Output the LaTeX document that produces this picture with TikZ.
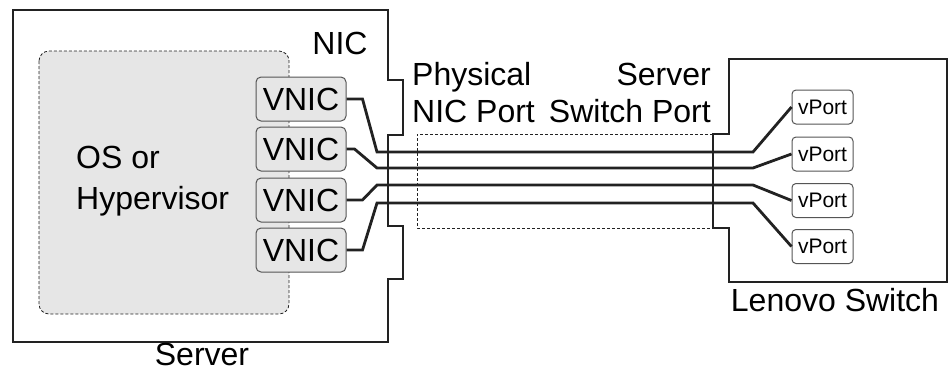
\documentclass[tikz,border=0pt]{standalone}
\usepackage{fontspec}
\setmainfont{Liberation Sans}
\usetikzlibrary{calc,positioning}
\definecolor{LnLine}{HTML}{222222}
\definecolor{LnGray}{HTML}{E6E6E6}
\definecolor{LnEdge}{HTML}{555555}
\begin{document}
\begin{tikzpicture}[x=1pt,y=-1pt,font=\fontsize{32pt}{41pt}\selectfont,
      outl/.style={draw=LnLine,line width=1.4pt},
      dsh/.style={draw=LnLine,line width=0.8pt,dash pattern=on 3pt off 2pt},
      vnic/.style={draw=LnEdge,fill=LnGray,line width=1pt,rounded corners=5pt,minimum width=90pt,minimum height=44pt,inner sep=0pt},
      vport/.style={draw=LnEdge,fill=white,line width=1pt,rounded corners=4pt,minimum width=61pt,minimum height=34pt,inner sep=0pt,font=\fontsize{21pt}{24pt}\selectfont},
      wire/.style={draw=LnLine,line width=2.8pt,line join=miter}]
      \useasboundingbox (0,0) rectangle (948,373);
      % server with NIC notch
      \draw[outl] (13,10) -- (388,10) -- (388,80) -- (403,80) -- (403,135) -- (388,135) -- (388,226) -- (403,226) -- (403,279) -- (388,279) -- (388,342) -- (13,342) -- cycle;
      % switch with port notch
      \draw[outl] (729,59) -- (947,59) -- (947,282) -- (729,282) -- (729,228) -- (713,228) -- (713,134) -- (729,134) -- cycle;
      \draw[dsh,fill=LnGray,rounded corners=10pt] (39,51) rectangle (289,314);
      \draw[dsh] (713,134) -- (417,134) -- (417,228) -- (713,228);
      \foreach \i/\y in {1/99,2/149,3/200,4/250}
        \node[vnic] (vnic\i) at (301,\y) {VNIC};
      \foreach \i/\y in {1/107,2/154,3/200.5,4/246.5}
        \node[vport] (vport\i) at (822.5,\y) {vPort};
      % links
      \draw[wire] (vnic1.east) -- ++(16,0) -- (377,152) -- (753,152) -- (vport1.west);
      \draw[wire] (vnic2.east) -- ++(8,0) -- (377,168) -- (753,168) -- (vport2.west);
      \draw[wire] (vnic3.east) -- ++(16,0) -- (377,185) -- (753,185) -- (vport3.west);
      \draw[wire] (vnic4.east) -- ++(16,0) -- (377,203) -- (753,203) -- (vport4.west);
      % labels
      \node (nic) at (340,43) {NIC};
      \node[align=left,anchor=west,inner sep=0pt] (os) at (76,181) {OS or\\Hypervisor};
      \node[align=left,anchor=west,inner sep=0pt,font=\fontsize{32pt}{37pt}\selectfont] (phys) at (412,93) {Physical\\NIC Port};
      \node[align=right,anchor=east,inner sep=0pt,font=\fontsize{32pt}{37pt}\selectfont] (swp) at (711,93) {Server\\Switch Port};
      \node[inner sep=0pt,anchor=base] (srv) at (202,365) {Server};
      \node (lsw) at (835,300) {Lenovo Switch};
    \end{tikzpicture}
\end{document}
